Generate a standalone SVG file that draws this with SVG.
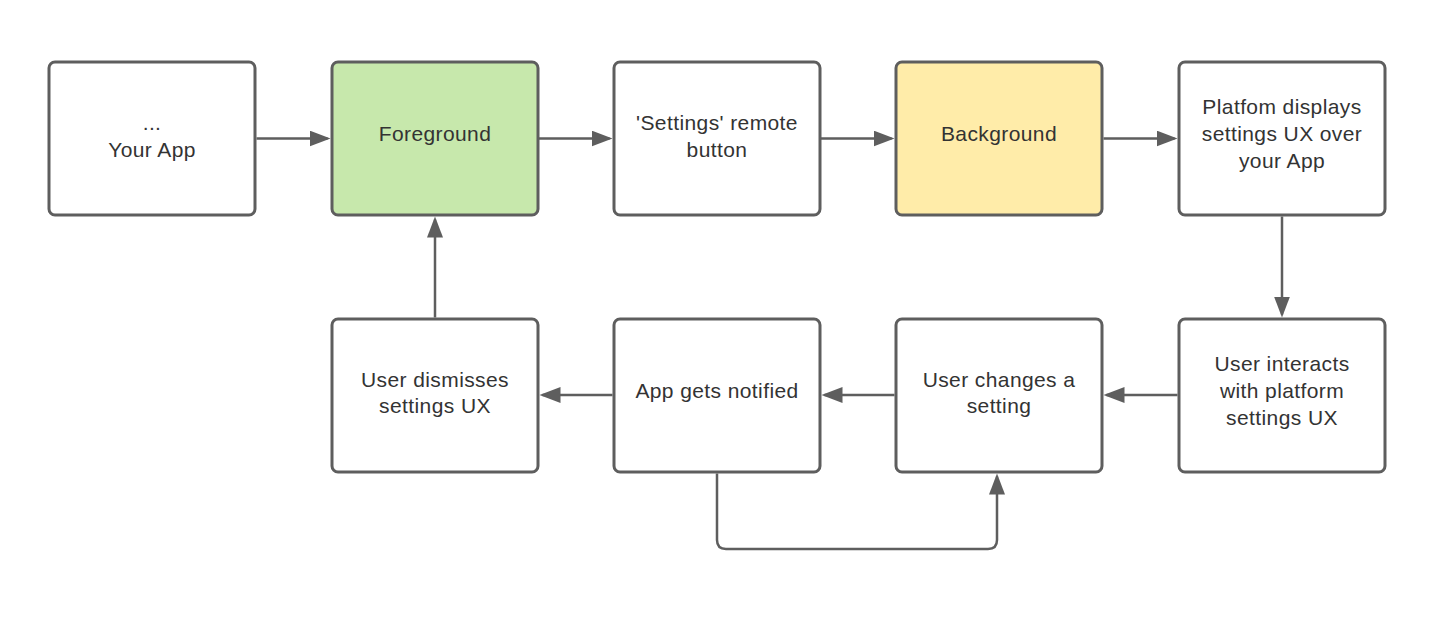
<svg xmlns="http://www.w3.org/2000/svg" width="1435" height="640" viewBox="0 0 1435 640">
<style>
.box{fill:#ffffff;stroke:#5e5e5e;stroke-width:3}
.green{fill:#c7e8ac}
.yellow{fill:#ffeca9}
.t{font-family:"Liberation Sans",Arial,sans-serif;font-size:21px;letter-spacing:0.4px;fill:#333333;text-anchor:middle}
.c{fill:none;stroke:#5e5e5e;stroke-width:2.5}
</style>
<defs>
<marker id="ah" markerUnits="userSpaceOnUse" markerWidth="22" markerHeight="16" refX="18" refY="8" orient="auto">
<path d="M0,0 L21,8 L0,16 z" fill="#5e5e5e"/>
</marker>
</defs>
<rect width="1435" height="640" fill="#ffffff"/>
<g id="connectors">
<path class="c" d="M256.5,138.5 H327.5" marker-end="url(#ah)"/>
<path class="c" d="M539,138.5 H609.5" marker-end="url(#ah)"/>
<path class="c" d="M821,138.5 H891.5" marker-end="url(#ah)"/>
<path class="c" d="M1103.5,138.5 H1174.5" marker-end="url(#ah)"/>
<path class="c" d="M1282,216.5 V314.5" marker-end="url(#ah)"/>
<path class="c" d="M1177.5,395 H1106.5" marker-end="url(#ah)"/>
<path class="c" d="M894.5,395 H824.5" marker-end="url(#ah)"/>
<path class="c" d="M612.5,395 H542.5" marker-end="url(#ah)"/>
<path class="c" d="M435,317.5 V219.5" marker-end="url(#ah)"/>
<path class="c" d="M717,473.5 V540 Q717,549 726,549 H988 Q997,549 997,540 V476.5" marker-end="url(#ah)"/>
</g>
<g id="your-app">
<rect class="box" x="49" y="62" width="206" height="153" rx="6"/>
<text class="t" x="152" y="130">...</text>
<text class="t" x="152" y="157">Your App</text>
</g>
<g id="foreground">
<rect class="box green" x="332" y="62" width="206" height="153" rx="6"/>
<text class="t" x="435" y="141">Foreground</text>
</g>
<g id="settings-button">
<rect class="box" x="614" y="62" width="206" height="153" rx="6"/>
<text class="t" x="717" y="130">'Settings' remote</text>
<text class="t" x="717" y="157">button</text>
</g>
<g id="background">
<rect class="box yellow" x="896" y="62" width="206" height="153" rx="6"/>
<text class="t" x="999" y="141">Background</text>
</g>
<g id="platform-displays">
<rect class="box" x="1179" y="62" width="206" height="153" rx="6"/>
<text class="t" x="1282" y="114">Platfom displays</text>
<text class="t" x="1282" y="141">settings UX over</text>
<text class="t" x="1282" y="168">your App</text>
</g>
<g id="user-interacts">
<rect class="box" x="1179" y="319" width="206" height="153" rx="6"/>
<text class="t" x="1282" y="371">User interacts</text>
<text class="t" x="1282" y="398">with platform</text>
<text class="t" x="1282" y="425">settings UX</text>
</g>
<g id="user-changes">
<rect class="box" x="896" y="319" width="206" height="153" rx="6"/>
<text class="t" x="999" y="387">User changes a</text>
<text class="t" x="999" y="413">setting</text>
</g>
<g id="app-notified">
<rect class="box" x="614" y="319" width="206" height="153" rx="6"/>
<text class="t" x="717" y="398">App gets notified</text>
</g>
<g id="user-dismisses">
<rect class="box" x="332" y="319" width="206" height="153" rx="6"/>
<text class="t" x="435" y="387">User dismisses</text>
<text class="t" x="435" y="413">settings UX</text>
</g>
</svg>
